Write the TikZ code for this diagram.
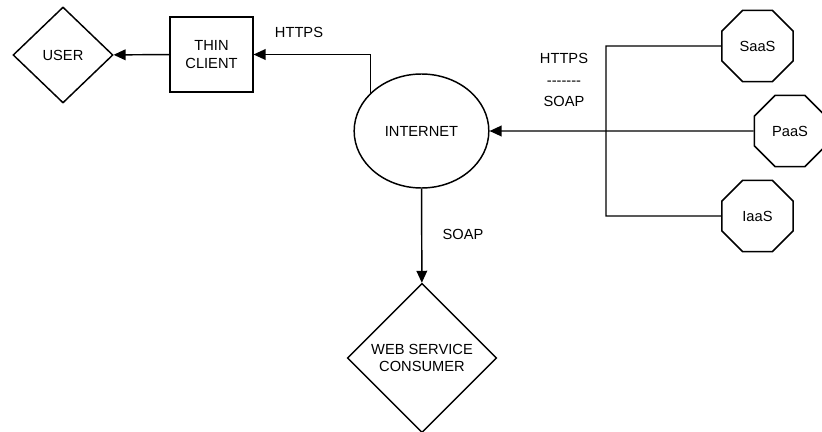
\documentclass[tikz,border=0pt]{standalone}
\usepackage{fontspec}
\setmainfont{Liberation Sans}
\usetikzlibrary{shapes.geometric,arrows.meta}

\tikzset{
  base/.style={draw, line width=1.1pt, align=center, inner sep=0pt},
  userbox/.style={base, diamond, minimum width=75pt, minimum height=72pt},
  clientbox/.style={base, rectangle, minimum width=62pt, minimum height=56pt},
  netbox/.style={base, ellipse, minimum width=101pt, minimum height=85.5pt},
  cloudbox/.style={base, regular polygon, regular polygon sides=8, minimum size=58pt},
  consumerbox/.style={base, diamond, minimum width=112pt, minimum height=112pt},
  arr/.style={line width=1.1pt, -{Triangle[length=9pt,width=8pt]}},
  wire/.style={line width=1.1pt},
  tag/.style={align=center}
}

\begin{document}
\begin{tikzpicture}[x=0.75pt, y=-0.75pt, font=\fontsize{11}{13}\selectfont]
  \useasboundingbox (0,0) rectangle (822,432);

  \node[userbox] (user) at (63,55) {USER};
  \node[clientbox] (client) at (211.5,54.5) {THIN\\CLIENT};
  \node[netbox] (inet) at (421.5,131) {INTERNET};
  \node[consumerbox] (wsc) at (422,358) {WEB SERVICE\\CONSUMER};

  \foreach \name/\x/\y/\txt in {saas/757.5/46/SaaS, paas/790/131/PaaS, iaas/757.5/216/IaaS} {
    \node[cloudbox] (\name) at (\x,\y) {\txt};
  }
  \coordinate (bus) at (606,131);

  \draw[arr] (client) -- (user);
  \draw[arr] (inet.143) |- (client);
  \draw[arr] (inet) -- (wsc);
  \draw[arr] (paas) -- (inet);
  \draw[wire] (saas) -- (saas -| bus) -- (iaas -| bus) -- (iaas);

  \node[tag] (lhttps) at (299,32) {HTTPS};
  \node[tag] (lsoap) at (463,234) {SOAP};
  \node[tag] (lmix) at (564,80) {HTTPS\\[3pt]-{}-{}-{}-{}-{}-{}-\\[3pt]SOAP};
\end{tikzpicture}
\end{document}
